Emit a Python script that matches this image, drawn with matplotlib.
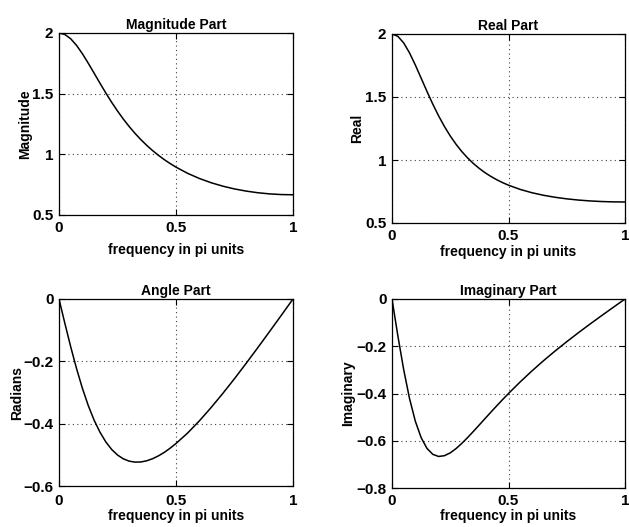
import matplotlib
matplotlib.use("Agg")
import matplotlib.pyplot as plt
from matplotlib.ticker import FixedLocator, FixedFormatter

# frequency in pi units
freq = [0.0, 0.025, 0.05, 0.075, 0.1, 0.125, 0.15, 0.175, 0.2, 0.225, 0.25, 0.275, 0.3,
        0.325, 0.35, 0.375, 0.4, 0.425, 0.45, 0.475, 0.5, 0.55, 0.6, 0.65, 0.7, 0.75,
        0.8, 0.85, 0.9, 0.95, 1.0]

magnitude = [2.0, 1.9878, 1.9525, 1.8979, 1.8290, 1.7511, 1.6690, 1.5864, 1.5059, 1.4292,
             1.3572, 1.2904, 1.2289, 1.1724, 1.1208, 1.0738, 1.0309, 0.9918, 0.9563,
             0.9239, 0.8944, 0.8432, 0.8009, 0.7661, 0.7377, 0.7148, 0.6969, 0.6834,
             0.6740, 0.6685, 0.6667]

real_part = [2.0, 1.9818, 1.9296, 1.8507, 1.7544, 1.6499, 1.5446, 1.4437, 1.3504, 1.2659,
             1.1907, 1.1244, 1.0663, 1.0155, 0.9711, 0.9324, 0.8985, 0.8689, 0.8429,
             0.8201, 0.8000, 0.7666, 0.7405, 0.7201, 0.7041, 0.6916, 0.6821, 0.6751,
             0.6704, 0.6676, 0.6667]

angle_part = [0.0, -0.0780, -0.1533, -0.2234, -0.2865, -0.3418, -0.3887, -0.4272, -0.4585,
              -0.4827, -0.5006, -0.5128, -0.5203, -0.5234, -0.5229, -0.5191, -0.5124,
              -0.5033, -0.4921, -0.4786, -0.4636, -0.4298, -0.3909, -0.3483, -0.3030,
              -0.2556, -0.2062, -0.1557, -0.1043, -0.0524, 0.0]

imag_part = [0.0, -0.1550, -0.2982, -0.4204, -0.5169, -0.5867, -0.6323, -0.6575, -0.6665,
             -0.6633, -0.6513, -0.6331, -0.6108, -0.5860, -0.5597, -0.5326, -0.5054,
             -0.4783, -0.4516, -0.4255, -0.4000, -0.3511, -0.3050, -0.2614, -0.2201,
             -0.1807, -0.1427, -0.1060, -0.0702, -0.0350, 0.0]

x_ticks = [0, 0.5, 1]
x_ticklabels = ["0", "0.5", "1"]

titles = ["Magnitude Part", "Real Part", "Angle Part", "Imaginary Part"]
ylabels = ["Magnitude", "Real", "Radians", "Imaginary"]
xlabel = "frequency in pi units"

yticks_mag = [0.5, 1, 1.5, 2]
yticklabels_mag = ["0.5", "1", "1.5", "2"]
yticks_ang = [-0.6, -0.4, -0.2, 0]
yticklabels_ang = ["\u22120.6", "\u22120.4", "\u22120.2", "0"]
yticks_imag = [-0.8, -0.6, -0.4, -0.2, 0]
yticklabels_imag = ["\u22120.8", "\u22120.6", "\u22120.4", "\u22120.2", "0"]

plt.rcParams['font.family'] = ['Liberation Sans', 'DejaVu Sans']

W, H = 629, 527
fig = plt.figure(figsize=(W / 100, H / 100), dpi=100)

def px_axes(x0, y0, x1, y1):
    return fig.add_axes([x0 / W, 1 - y1 / H, (x1 - x0) / W, (y1 - y0) / H])

specs = [
    # (box px), data, ylim, yticks, yticklabels, title_y_px, xlabel_top_px, ylabel_x_px, xpad
    ((59, 33, 293, 215), magnitude, (0.5, 2), yticks_mag, yticklabels_mag, 16, 243, 25, 4),
    ((392, 34, 625, 223), real_part, (0.5, 2), yticks_mag, yticklabels_mag, 17, 245, 357, 4),
    ((59, 299, 293, 486), angle_part, (-0.6, 0), yticks_ang, yticklabels_ang, 280, 509, 17, 5.5),
    ((392, 299, 625, 488), imag_part, (-0.8, 0), yticks_imag, yticklabels_imag, 283, 509, 348, 4.5),
]

for i, (box, data, ylim, yt, ytl, ty, xly, ylx, xpad) in enumerate(specs):
    x0, y0, x1, y1 = box
    ax = px_axes(x0, y0, x1, y1)
    ax.plot(freq, data, color='black', linewidth=1.1)
    ax.set_xlim(0, 1)
    ax.set_ylim(*ylim)
    ax.xaxis.set_major_locator(FixedLocator(x_ticks))
    ax.xaxis.set_major_formatter(FixedFormatter(x_ticklabels))
    ax.yaxis.set_major_locator(FixedLocator(yt))
    ax.yaxis.set_major_formatter(FixedFormatter(ytl))
    ax.tick_params(direction='in', length=4, width=0.8, top=True, right=True,
                   labelsize=11, pad=4)
    ax.tick_params(axis='x', pad=xpad)
    for lab in ax.get_xticklabels() + ax.get_yticklabels():
        lab.set_fontweight('bold')
    ax.grid(True, color='0.25', linestyle=(0, (1, 3)), linewidth=0.8)
    for sp in ax.spines.values():
        sp.set_linewidth(0.9)
    h = y1 - y0
    wdt = x1 - x0
    ax.set_title(titles[i], fontsize=10, fontweight='bold')
    ax.title.set_position((0.5, 1 + (y0 - ty) / h))
    ax.title.set_verticalalignment('center')
    ax.set_xlabel(xlabel, fontsize=10, fontweight='bold', va='top')
    ax.xaxis.set_label_coords(0.5, (y1 - xly) / h)
    ax.set_ylabel(ylabels[i], fontsize=10, fontweight='bold', va='center')
    ax.yaxis.set_label_coords((ylx - x0) / wdt, 0.5)

fig.savefig("out.png", dpi=100)
